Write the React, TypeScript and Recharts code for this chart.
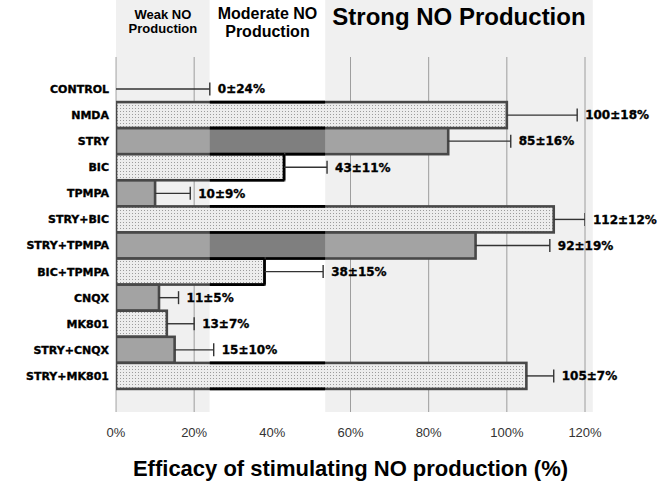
import React from 'react';
import { BarChart, Bar, XAxis, YAxis, CartesianGrid, ReferenceArea, LabelList, Label } from 'recharts';

const categories = ['CONTROL', 'NMDA', 'STRY', 'BIC', 'TPMPA', 'STRY+BIC', 'STRY+TPMPA', 'BIC+TPMPA', 'CNQX', 'MK801', 'STRY+CNQX', 'STRY+MK801'];
const means = [0, 100, 85, 43, 10, 112, 92, 38, 11, 13, 15, 105];
const errors = [24, 18, 16, 11, 9, 12, 19, 15, 5, 7, 10, 7];
const kinds = ['none', 'dots', 'solid', 'dots', 'solid', 'dots', 'solid', 'dots', 'solid', 'dots', 'solid', 'dots'];
const xTicks = [0, 20, 40, 60, 80, 100, 120];

const weakBand = { from: 0, to: 24, lines: ['Weak NO', 'Production'] };
const moderateBand = { from: 24, to: 53.5, lines: ['Moderate NO', 'Production'] };
const strongBand = { from: 53.5, to: 122, lines: ['Strong NO Production'] };

const data = categories.map((name, i) => ({
  name,
  mean: means[i],
  err: errors[i],
  kind: kinds[i],
  label: `${means[i]}±${errors[i]}%`,
}));

const FIRST = categories[0];
const LAST = categories[categories.length - 1];

const SANS = '"Liberation Sans", Arial, sans-serif';
const HEAVY = '"DejaVu Sans", "Liberation Sans", sans-serif';
const GRID_TOP = 57;

function MainBar(p: any) {
  const { x, y, width, height, payload } = p;
  if (!payload || payload.mean <= 0 || !(width > 0)) return null;
  const k = width / payload.mean;
  const px = (v: number) => x + k * v;
  const mLo = Math.max(x, px(moderateBand.from));
  const mHi = Math.min(x + width, px(moderateBand.to));
  const solid = payload.kind === 'solid';
  const fill = solid ? '#a3a3a3' : 'url(#dotsPattern)';
  const hasMid = mHi > mLo;
  const endsInMid = hasMid && x + width <= px(moderateBand.to) + 0.5;
  return (
    <g>
      <rect x={x} y={y} width={width} height={height} fill={fill} />
      {hasMid && solid && <rect x={mLo} y={y} width={mHi - mLo} height={height} fill="#7f7f7f" />}
      <rect x={x} y={y} width={width} height={height} fill="none" stroke="#484848" strokeWidth={2.6} />
      {hasMid && (
        <path d={`M${mLo},${y}H${mHi}M${mLo},${y + height}H${mHi}`} stroke="#000" strokeWidth={2.6} fill="none" />
      )}
      {endsInMid && (
        <line x1={x + width} x2={x + width} y1={y} y2={y + height} stroke="#000" strokeWidth={2.6} />
      )}
    </g>
  );
}

function Whisker(p: any) {
  const { x, y, width, height } = p;
  if (!(width > 0)) return null;
  const cy = y + height / 2;
  const xe = x + width;
  return (
    <g>
      <line x1={x} x2={xe} y1={cy} y2={cy} stroke="#333" strokeWidth={1.4} />
      <line x1={xe} x2={xe} y1={cy - 6.5} y2={cy + 6.5} stroke="#333" strokeWidth={1.4} />
    </g>
  );
}

function headerLabel(lines: string[], fontSize: number, firstBaseline: number, lineGap: number) {
  return (props: any) => {
    const vb = props.viewBox || {};
    const cx = vb.x + vb.width / 2;
    return (
      <text textAnchor="middle" fontFamily={SANS} fontWeight="bold" fontSize={fontSize} fill="#000">
        {lines.map((l, i) => (
          <tspan key={i} x={cx} y={vb.y + firstBaseline + i * lineGap}>
            {l}
          </tspan>
        ))}
      </text>
    );
  };
}

function gridLine(p: any) {
  return (
    <line key={p.key ?? `${p.x1}`} x1={p.x1} x2={p.x2} y1={p.y1 + GRID_TOP} y2={p.y2} stroke="#a8a8a8" strokeWidth={1} />
  );
}

export default function App() {
  return (
    <div style={{ position: 'absolute', left: 0, top: 0, background: '#fff' }}>
      <svg width={0} height={0} style={{ position: 'absolute' }}>
        <defs>
          <pattern id="dotsPattern" x={0} y={0} width={3} height={3} patternUnits="userSpaceOnUse">
            <rect x={0} y={0} width={3} height={3} fill="#ededed" />
            <rect x={0} y={0} width={1} height={1} fill="#9c9c9c" />
          </pattern>
        </defs>
      </svg>
      <BarChart
        width={672}
        height={494}
        data={data}
        layout="vertical"
        margin={{ top: 0, right: 87, bottom: 0, left: 0 }}
        barCategoryGap={0}
        barGap={0}
      >
        <CartesianGrid horizontal={false} vertical={gridLine} />
        <ReferenceArea yAxisId="band" y1={FIRST} y2={LAST} x1={weakBand.from} x2={weakBand.to} fill="#000" fillOpacity={0.06} stroke="none" ifOverflow="visible">
          <Label content={headerLabel(weakBand.lines, 13, 18.5, 14.5)} />
        </ReferenceArea>
        <ReferenceArea yAxisId="band" y1={FIRST} y2={LAST} x1={strongBand.from} x2={strongBand.to} fill="#000" fillOpacity={0.06} stroke="none" ifOverflow="visible">
          <Label content={headerLabel(strongBand.lines, 24, 25, 0)} />
        </ReferenceArea>
        <ReferenceArea yAxisId="band" y1={FIRST} y2={LAST} x1={moderateBand.from} x2={moderateBand.to} fill="#fff" fillOpacity={1} stroke="none" ifOverflow="visible">
          <Label content={headerLabel(moderateBand.lines, 16, 18.5, 18)} />
        </ReferenceArea>
        <XAxis
          type="number"
          domain={[0, 120]}
          ticks={xTicks}
          tickFormatter={(v: number) => `${v}%`}
          axisLine={false}
          tickLine={false}
          tickMargin={10}
          height={82}
          tick={{ fontSize: 13, fill: '#333', fontFamily: SANS }}
          allowDataOverflow
        >
          <Label
            value="Efficacy of stimulating NO production (%)"
            position="insideBottom"
            offset={18}
            style={{ fontSize: 22, fontWeight: 'bold', fill: '#000', fontFamily: SANS }}
          />
        </XAxis>
        <YAxis
          type="category"
          dataKey="name"
          width={116}
          axisLine={false}
          tickLine={false}
          tickMargin={1}
          interval={0}
          padding={{ top: 76, bottom: 23 }}
          tick={{ fontSize: 11, fontWeight: 'bold', fill: '#000', stroke: '#000', strokeWidth: 0.35, fontFamily: HEAVY }}
        />
        <YAxis yAxisId="band" type="category" dataKey="name" scale="point" hide />
        <Bar dataKey="mean" stackId="s" shape={<MainBar />} isAnimationActive={false} />
        <Bar dataKey="err" stackId="s" shape={<Whisker />} isAnimationActive={false}>
          <LabelList
            dataKey="label"
            position="right"
            offset={8}
            style={{ fontSize: 12, fontWeight: 'bold', fill: '#000', stroke: '#000', strokeWidth: 0.35, fontFamily: HEAVY }}
          />
        </Bar>
      </BarChart>
    </div>
  );
}
